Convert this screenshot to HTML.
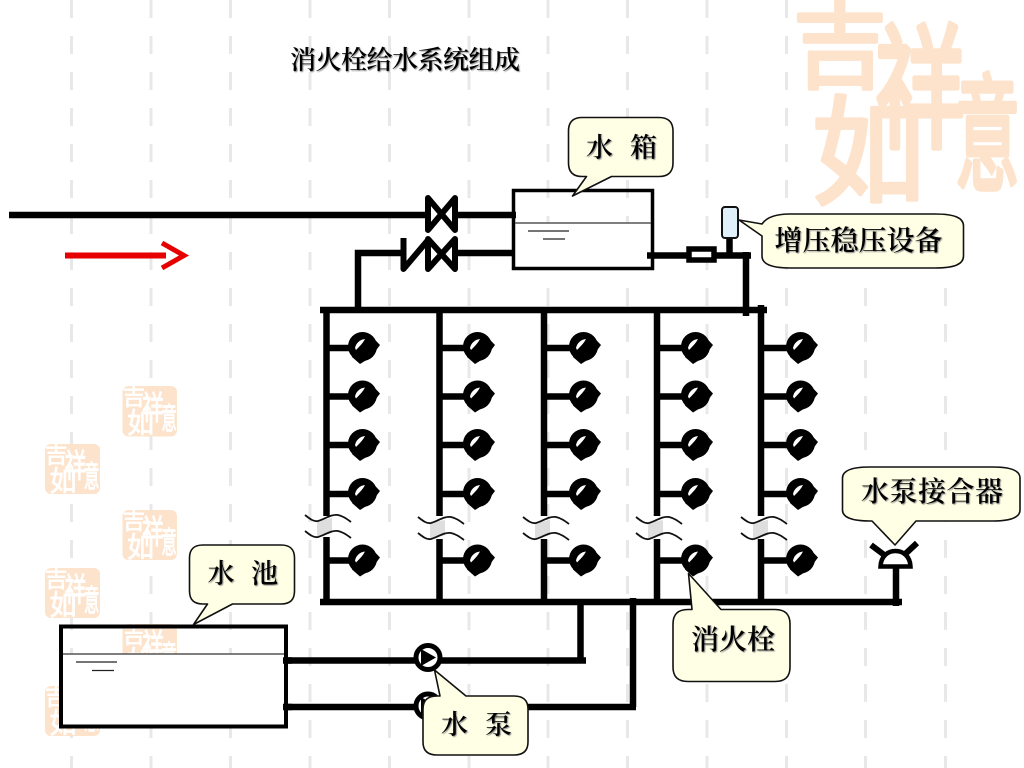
<!DOCTYPE html>
<html lang="zh">
<head>
<meta charset="utf-8">
<title>消火栓给水系统组成</title>
<style>
html,body{margin:0;padding:0;background:#fff;width:1024px;height:768px;overflow:hidden}
svg{display:block;position:absolute;left:0;top:0}
.lg{font-family:"Noto Sans CJK SC","WenQuanYi Zen Hei",sans-serif;font-weight:400}
.t{font-family:"Liberation Serif","Noto Serif CJK SC",serif;font-weight:600;fill:#000;filter:drop-shadow(1px 1px .6px #888)}
</style>
</head>
<body>
<svg width="1024" height="768" viewBox="0 0 1024 768" xmlns="http://www.w3.org/2000/svg">
<defs>
<g id="h"><circle cx="0.5" cy="-0.5" r="14.500" fill="#000"/><path d="M8,-12.500L18,-2L9,10L6,12L-2,17L-10,10Z" fill="#000"/><path d="M-7,1C-6,-4 -2,-7.500 3,-8C1,-4 -2,-1 -6,3Z" fill="#fff"/></g>
<path id="w" d="M0,0C5,4 9,7 13,6C20,4 26,-1 33,0C38,1 42,4 46,7" fill="none" stroke="#111" stroke-width="1.800"/>
</defs>

<!-- background dashes -->
<g stroke="#e8e8e8" stroke-width="3" stroke-dasharray="18 18" fill="none">
<path d="M71.500,0V768"/><path d="M151,0V768"/><path d="M230.500,0V768"/><path d="M310,0V768"/><path d="M389.500,0V768"/><path d="M469,0V768"/><path d="M548,0V768"/><path d="M627.500,0V768"/><path d="M707,0V768"/><path d="M786.500,0V768"/>
<path d="M865.500,288V768"/><path d="M945.500,288V768"/>
</g>

<!-- big seal-style logo -->
<g class="lg" fill="#fde3cc" stroke="#fde3cc" stroke-width="4" stroke-linejoin="round">
<text transform="translate(793,80)" font-size="94">吉</text>
<text transform="translate(875,137) scale(1,1.5)" font-size="90">祥</text>
<text transform="translate(812,195) scale(1,1.05)" font-size="113">如</text>
<text transform="translate(955,180) scale(.72,1.4)" font-size="90">意</text>
</g>

<!-- small seal tiles -->
<g fill="#fde3cc">
<rect x="122.500" y="386" width="54.500" height="50.500" rx="6"/><rect x="45" y="444" width="55" height="50" rx="6"/><rect x="122.500" y="510" width="54.500" height="50" rx="6"/><rect x="45" y="568" width="55" height="50" rx="6"/><rect x="122.500" y="624" width="54.500" height="50" rx="6"/><rect x="45" y="686" width="55" height="50" rx="6"/>
</g>
<g class="lg" fill="#fff" stroke="#fff" stroke-width="3">
<g transform="translate(122.500,386) scale(.24)"><text transform="translate(0,80)" font-size="94">吉</text><text transform="translate(82,137) scale(1,1.5)" font-size="90">祥</text><text transform="translate(19,195) scale(1,1.05)" font-size="113">如</text><text transform="translate(162,180) scale(.72,1.4)" font-size="90">意</text></g>
<g transform="translate(45,444) scale(.24)"><text transform="translate(0,80)" font-size="94">吉</text><text transform="translate(82,137) scale(1,1.5)" font-size="90">祥</text><text transform="translate(19,195) scale(1,1.05)" font-size="113">如</text><text transform="translate(162,180) scale(.72,1.4)" font-size="90">意</text></g>
<g transform="translate(122.500,510) scale(.24)"><text transform="translate(0,80)" font-size="94">吉</text><text transform="translate(82,137) scale(1,1.5)" font-size="90">祥</text><text transform="translate(19,195) scale(1,1.05)" font-size="113">如</text><text transform="translate(162,180) scale(.72,1.4)" font-size="90">意</text></g>
<g transform="translate(45,568) scale(.24)"><text transform="translate(0,80)" font-size="94">吉</text><text transform="translate(82,137) scale(1,1.5)" font-size="90">祥</text><text transform="translate(19,195) scale(1,1.05)" font-size="113">如</text><text transform="translate(162,180) scale(.72,1.4)" font-size="90">意</text></g>
<g transform="translate(122.500,624) scale(.24)"><text transform="translate(0,80)" font-size="94">吉</text><text transform="translate(82,137) scale(1,1.5)" font-size="90">祥</text><text transform="translate(19,195) scale(1,1.05)" font-size="113">如</text><text transform="translate(162,180) scale(.72,1.4)" font-size="90">意</text></g>
<g transform="translate(45,686) scale(.24)"><text transform="translate(0,80)" font-size="94">吉</text><text transform="translate(82,137) scale(1,1.5)" font-size="90">祥</text><text transform="translate(19,195) scale(1,1.05)" font-size="113">如</text><text transform="translate(162,180) scale(.72,1.4)" font-size="90">意</text></g>
</g>

<!-- red arrow -->
<g fill="none" stroke="#e60000">
<path d="M65,255.500H166" stroke-width="6"/>
<path d="M162,243L184,255.500L162,268" stroke-width="5"/>
</g>

<!-- pipes -->
<g fill="none" stroke="#000" stroke-width="6.500">
<path d="M9,215H428M455,215H516"/>
<path d="M358,310V253H403M455,253H515"/>
<path d="M647,255.500H751M746,252V316M729.500,236V255" />
<path d="M320,310H767M320,602H902"/>
<path d="M326.500,307V516M326.500,537V605M439.500,307V516M439.500,539V605M544,307V516M544,539V605M657,307V516M657,539V605M761,305V516M761,539V605"/>
<path d="M896,565V606"/>
<path d="M580.500,600V660M283,660.500H586M633,598V707M283,707H636"/>
<path d="M327,348H352M327,396.500H352M327,445H352M327,494H352M327,560.500H352"/>
<path d="M440,348H466M440,396.500H466M440,445H466M440,494H466M440,560.500H466"/>
<path d="M544,348H572M544,396.500H572M544,445H572M544,494H572M544,560.500H572"/>
<path d="M657,348H684M657,396.500H684M657,445H684M657,494H684M657,560.500H684"/>
<path d="M761,348H789M761,396.500H789M761,445H789M761,494H789M761,560.500H789"/>
</g>

<!-- hydrants -->
<use href="#h" x="362" y="347"/><use href="#h" x="362" y="395.500"/><use href="#h" x="362" y="444"/><use href="#h" x="362" y="493"/><use href="#h" x="362" y="559.500"/>
<use href="#h" x="477" y="347"/><use href="#h" x="477" y="395.500"/><use href="#h" x="477" y="444"/><use href="#h" x="477" y="493"/><use href="#h" x="477" y="559.500"/>
<use href="#h" x="583" y="347"/><use href="#h" x="583" y="395.500"/><use href="#h" x="583" y="444"/><use href="#h" x="583" y="493"/><use href="#h" x="583" y="559.500"/>
<use href="#h" x="695" y="347"/><use href="#h" x="695" y="395.500"/><use href="#h" x="695" y="444"/><use href="#h" x="695" y="493"/><use href="#h" x="695" y="559.500"/>
<use href="#h" x="800" y="347"/><use href="#h" x="800" y="395.500"/><use href="#h" x="800" y="444"/><use href="#h" x="800" y="493"/><use href="#h" x="800" y="559.500"/>

<!-- pipe breaks -->
<g fill="#dedede">
<path d="M317,521L332,518V533L317,538Z"/><path d="M430,523L445,520V535L430,540Z"/><path d="M535,523L550,520V535L535,540Z"/><path d="M648,523L663,520V535L648,540Z"/><path d="M753,523L768,520V535L753,540Z"/>
</g>
<use href="#w" x="305" y="515"/><use href="#w" x="305" y="531"/>
<use href="#w" x="418" y="517"/><use href="#w" x="418" y="533"/>
<use href="#w" x="523" y="517"/><use href="#w" x="523" y="533"/>
<use href="#w" x="636" y="517"/><use href="#w" x="636" y="533"/>
<use href="#w" x="741" y="517"/><use href="#w" x="741" y="533"/>

<!-- valves -->
<g fill="#fff" stroke="#000" stroke-width="6" stroke-linejoin="round">
<path d="M428,198L455,230V198L428,230Z"/>
<path d="M428,239L455,269V239L428,269Z"/>
</g>
<path d="M403.500,238V269L428,240" fill="none" stroke="#000" stroke-width="6" stroke-linejoin="round"/>

<!-- upper tank -->
<rect x="513" y="223" width="139" height="45" fill="#fff"/>
<rect x="513.500" y="190.500" width="139" height="78" fill="none" stroke="#000" stroke-width="3.500"/>
<path d="M515,223H651" stroke="#555" stroke-width="1.500"/>
<path d="M528,231H569M543,239H565" stroke="#222" stroke-width="1.200"/>
<path d="M647,255.500H655" stroke="#000" stroke-width="6.500"/>

<!-- inline box + gauge -->
<rect x="689" y="249" width="25" height="11" fill="#fff" stroke="#000" stroke-width="5.500"/>
<rect x="722" y="207" width="16" height="31" rx="3" fill="#dff0fb" stroke="#111" stroke-width="2"/>

<!-- lower tank -->
<rect x="61" y="654" width="224" height="72" fill="#fff"/>
<rect x="61" y="626.500" width="225" height="100" fill="none" stroke="#000" stroke-width="4"/>
<path d="M63,654H284" stroke="#555" stroke-width="1.500"/>
<path d="M76,662H117M92,670.500H114" stroke="#222" stroke-width="1.200"/>
<path d="M283,660.500H292M283,707H292" stroke="#000" stroke-width="6.500"/>

<!-- pumps -->
<circle cx="428" cy="657.500" r="12" fill="#fff" stroke="#000" stroke-width="5"/>
<path d="M421,649L436,657.500L421,666Z" fill="#000"/>
<circle cx="428" cy="706" r="12" fill="#fff" stroke="#000" stroke-width="5"/>
<path d="M421,697L436,706L421,715Z" fill="#000"/>

<!-- pump adapter -->
<g fill="none" stroke="#000" stroke-width="6">
<path d="M871,545L887,557M917,543L902,557"/>
</g>
<path d="M880.500,566.500C881,556 888,551 895.500,551C903,551 910,556 910.500,566.500Z" fill="#fff" stroke="#000" stroke-width="4.500"/>

<!-- callouts -->
<g fill="#ffffe5" stroke="#111" stroke-width="1.600" stroke-linejoin="round">
<path d="M582,117.500H659C668,117.500 673,122 673,131V163C673,172 668,176.500 659,176.500H611.500L572.500,196L586.500,176.500H582C573,176.500 568.500,172 568.500,163V131C568.500,122 573,117.500 582,117.500Z"/>
<path d="M790,214H935C955,214 963.500,218 963.500,226V256C963.500,264 955,268 935,268H790C772,268 762,264 762,256V236L739,220L762,224C766,218 775,214 790,214Z"/>
<path d="M870,467H993C1012,467 1020,471 1020,478V510C1020,517 1012,521 993,521H916L895,545L872,521H870C851,521 842.500,517 842.500,510V478C842.500,471 851,467 870,467Z"/>
<path d="M688.500,573.500L721,609.500H775C785,609.500 790,614 790,624V667C790,677 785,681.500 775,681.500H688C678,681.500 673,677 673,667V624C673,614 678,609.500 688,609.500H692Z"/>
<path d="M203,545H281C290,545 294.500,549 294.500,558V591C294.500,600 290,604 281,604H232.500L193.500,624.500L207.500,604H203C194,604 189.500,600 189.500,591V558C189.500,549 194,545 203,545Z"/>
<path d="M434.500,670L466,696H514C523,696 528,700 528,709V742C528,751 523,755 514,755H437C428,755 423,751 423,742V709C423,700 428,696 437,696H440Z"/>
</g>

<!-- labels -->
<g class="t">
<text x="290 315.500 341 366.500 392 417.500 443 468.500 494" y="69" font-size="26">消火栓给水系统组成</text>
<text x="586 630" y="157" font-size="27">水箱</text>
<text x="774.500 802.500 830.500 858.500 886.500 914.500" y="250" font-size="28">增压稳压设备</text>
<text x="861 889.500 918 946.500 975" y="501" font-size="28">水泵接合器</text>
<text x="691 719 747" y="649" font-size="28">消火栓</text>
<text x="207.500 251" y="583" font-size="27">水池</text>
<text x="441 485" y="734" font-size="27">水泵</text>
</g>
</svg>
</body>
</html>
